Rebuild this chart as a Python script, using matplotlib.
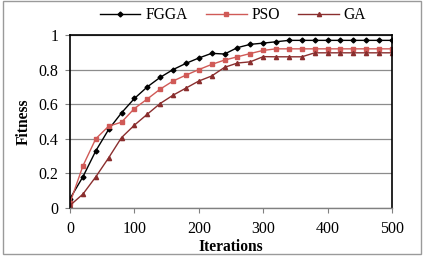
import matplotlib
matplotlib.use("Agg")
import matplotlib.pyplot as plt
from matplotlib.patches import Rectangle

iterations = list(range(0, 501, 20))
fgga = [0.054, 0.18, 0.33, 0.454, 0.55, 0.633, 0.70, 0.755, 0.80, 0.836, 0.867, 0.894, 0.89,
        0.927, 0.946, 0.953, 0.961, 0.969, 0.969, 0.969, 0.969, 0.969, 0.969, 0.969, 0.969, 0.969]
pso = [0.029, 0.243, 0.40, 0.473, 0.496, 0.575, 0.63, 0.687, 0.734, 0.768, 0.80, 0.83, 0.855,
       0.874, 0.893, 0.911, 0.92, 0.92, 0.92, 0.92, 0.92, 0.92, 0.92, 0.92, 0.92, 0.92]
ga = [0.015, 0.08, 0.18, 0.29, 0.407, 0.479, 0.542, 0.604, 0.652, 0.693, 0.734, 0.763, 0.813,
      0.838, 0.845, 0.875, 0.874, 0.874, 0.874, 0.897, 0.897, 0.897, 0.897, 0.897, 0.897, 0.897]
x_ticks = [0, 100, 200, 300, 400, 500]
y_ticks = [0, 0.2, 0.4, 0.6, 0.8, 1]
y_tick_labels = ["0", "0.2", "0.4", "0.6", "0.8", "1"]

plt.rcParams['font.family'] = ['Liberation Serif', 'DejaVu Serif']

W, H = 427, 258
fig = plt.figure(figsize=(W / 100, H / 100), dpi=100)
ax = fig.add_axes([70 / W, 1 - 208 / H, (392 - 70) / W, (208 - 35) / H])

ax.plot(iterations, fgga, color='black', marker='D', markersize=2.5, linewidth=1.0, label='FGGA')
ax.plot(iterations, pso, color='#d05a57', marker='s', markersize=3.0, linewidth=1.0, label='PSO')
ax.plot(iterations, ga, color='#8a2e2e', marker='^', markersize=3.0, linewidth=1.0, label='GA')

ax.set_xlim(0, 500)
ax.set_ylim(0, 1)
ax.set_xticks(x_ticks)
ax.set_yticks(y_ticks)
ax.set_yticklabels(y_tick_labels)
ax.yaxis.grid(True, color='#8c8c8c', linewidth=0.9)
ax.set_axisbelow(True)
ax.tick_params(axis='both', direction='out', length=3.5, width=0.8, labelsize=11.5,
               color='#808080')
ax.tick_params(axis='x', pad=6)
ax.tick_params(axis='y', pad=5)
for side in ['top', 'right', 'left']:
    ax.spines[side].set_color('black')
    ax.spines[side].set_linewidth(1.2)
ax.spines['bottom'].set_color('#808080')
ax.spines['bottom'].set_linewidth(1.0)

ax.set_xlabel('Iterations', fontsize=11.2, fontweight='bold', labelpad=1)
ax.set_ylabel('Fitness', fontsize=11.2, fontweight='bold', labelpad=5)

leg = fig.legend(loc='center', bbox_to_anchor=(233 / W, 1 - 15 / H), ncol=3, frameon=False,
                 fontsize=11.2, handlelength=2.6, columnspacing=1.2, handletextpad=0.3)

fig.patches.append(Rectangle((3.5 / W, 1 - 254 / H), (421.5 - 3.5) / W, 253.5 / H,
                             transform=fig.transFigure, fill=False, edgecolor='#9a9a9a',
                             linewidth=1.0))

fig.savefig('out.png', dpi=100)
